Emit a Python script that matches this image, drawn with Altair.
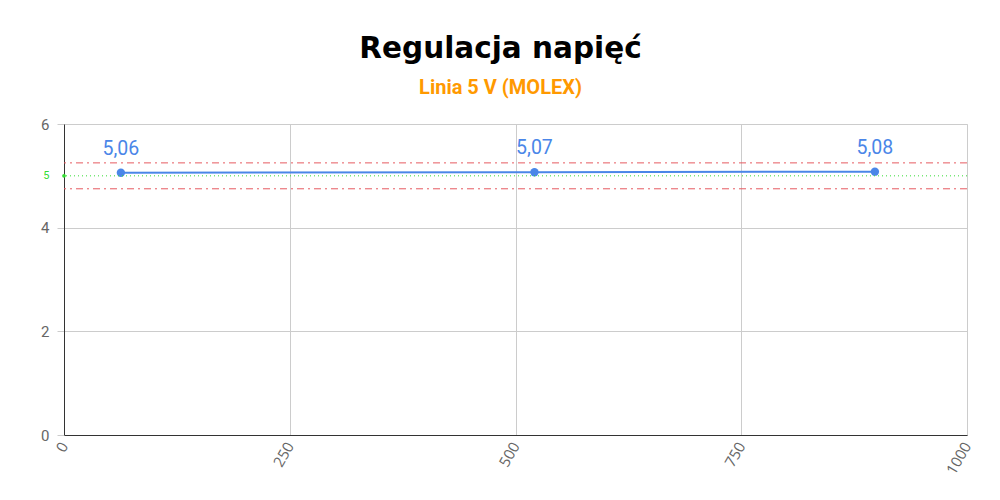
import altair as alt
import pandas as pd

# --- data ---
loads = [63, 521, 898]
volts = [5.06, 5.07, 5.08]
labels = ["5,06", "5,07", "5,08"]
limits = [4.75, 5.25]
nominal = [5]
x_ticks = [0, 250, 500, 750, 1000]
y_ticks = [0, 2, 4, 5, 6]

blue = "#4a86e8"
green = "#33dd33"
red = "#e65a60"

df = pd.DataFrame({"x": loads, "y": volts, "label": labels})
lim_df = pd.DataFrame({"y": limits})
nom_df = pd.DataFrame({"y": nominal})
nom_pt = pd.DataFrame({"x": [0], "y": nominal})

xscale = alt.Scale(domain=[0, 1000], nice=False)
yscale = alt.Scale(domain=[0, 6], nice=False)

xaxis = alt.Axis(
    values=x_ticks, format="d", labelAngle=-60, title=None, grid=True, gridColor="#cccccc",
    domainColor="#333333", tickSize=0, labelColor="#666666", labelFontSize=15,
    labelFont="Open Sans", labelPadding=8,
)
yaxis = alt.Axis(
    values=y_ticks, title=None, grid=True,
    gridColor={"condition": {"test": "datum.value == 5", "value": "transparent"}, "value": "#cccccc"},
    domainColor="#333333",
    tickColor={"condition": {"test": "datum.value == 5", "value": "transparent"}, "value": "#cccccc"},
    tickSize=7,
    labelColor={"condition": {"test": "datum.value == 5", "value": green}, "value": "#666666"},
    labelFontSize={"condition": {"test": "datum.value == 5", "value": 11}, "value": 15},
    labelFont="Roboto", labelPadding=8,
)

x = alt.X("x:Q", scale=xscale, axis=xaxis)
y = alt.Y("y:Q", scale=yscale, axis=yaxis)

nom_rule = alt.Chart(nom_df).mark_rule(color=green, strokeDash=[1, 3], strokeWidth=1).encode(
    y=alt.Y("y:Q", scale=yscale, axis=yaxis)
)
nom_point = alt.Chart(nom_pt).mark_point(filled=True, color=green, size=14, opacity=1, clip=False).encode(x=x, y=y)
lim_rule = alt.Chart(lim_df).mark_rule(color=red, strokeDash=[7, 4, 2, 4], strokeWidth=1).encode(
    y=alt.Y("y:Q", scale=yscale, axis=yaxis)
)
line = alt.Chart(df).mark_line(
    color=blue, strokeWidth=2,
    point=alt.OverlayMarkDef(color=blue, filled=True, size=70, opacity=1),
).encode(x=x, y=y)
text = alt.Chart(df).mark_text(dy=-24, fontSize=19.5, color=blue, font="Roboto").encode(
    x=x, y=y, text="label:N"
)

chart = alt.layer(line, nom_rule, lim_rule, nom_point, text).properties(
    width=903, height=311,
    title=alt.TitleParams(
        text="Regulacja napięć",
        subtitle="Linia 5 V (MOLEX)",
        anchor="middle", frame="group", dx=-15,
        font="DejaVu Sans", fontSize=29.5, fontWeight="bold", color="#000000",
        subtitleFont="Roboto", subtitleFontSize=20, subtitleFontWeight="bold",
        subtitleColor="#ff9900", subtitlePadding=14, offset=18,
    ),
    autosize=alt.AutoSizeParams(type="none"),
    padding={"left": 56, "top": 116, "right": 25, "bottom": 57},
).configure_view(stroke=None).configure(background="white")

chart.save("out.html", embed_options={"renderer": "svg", "actions": False})
